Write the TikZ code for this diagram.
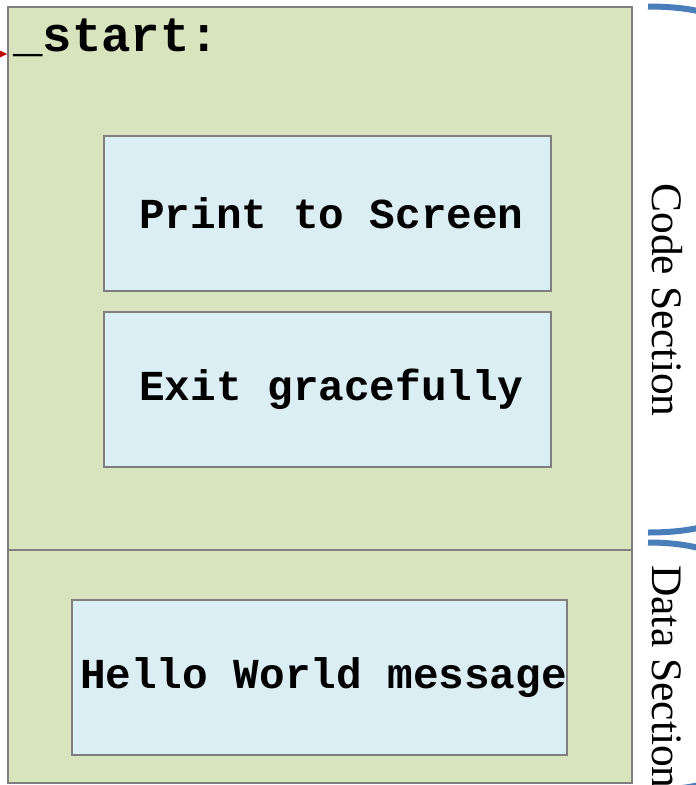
\documentclass[tikz,border=0pt]{standalone}
\usepackage{fontspec}
\setmainfont{Liberation Serif}
\setmonofont{Liberation Mono}
\usetikzlibrary{arrows.meta}
\definecolor{sectgreen}{HTML}{D7E4BD}
\definecolor{stepblue}{HTML}{DBEEF4}
\definecolor{frame}{HTML}{7F7F7F}
\definecolor{bracecol}{HTML}{4A7EBB}
\definecolor{entryred}{HTML}{C00000}
\newcommand{\steptext}[1]{\hspace*{8pt}#1}
\tikzset{
  sectionbox/.style={draw=frame, fill=sectgreen, line width=1.5pt, inner sep=0pt},
  stepbox/.style={draw=frame, fill=stepblue, line width=1.3pt, inner sep=0pt,
    minimum height=155pt, font=\ttfamily\bfseries\fontsize{42.7}{48}\selectfont},
  sidelabel/.style={rotate=-90, inner sep=0pt, font=\rmfamily\fontsize{43.5}{50}\selectfont},
  bracestroke/.style={draw=bracecol, line width=6pt},
}
\begin{document}
\begin{tikzpicture}[x=1pt, y=-1pt]
  \useasboundingbox (0,0) rectangle (696,785);
  \clip (0,0) rectangle (696,785);
  \fill[white] (0,0) rectangle (696,785);

  % the two program sections
  \node[sectionbox, minimum width=624pt, minimum height=543pt] (code) at (320,278.5) {};
  \node[sectionbox, minimum width=624pt, minimum height=233pt] (data) at (320,666.5) {};

  % entry label
  \node[anchor=base west, inner sep=0pt, font=\ttfamily\bfseries\fontsize{49}{55}\selectfont]
    (start) at (13,51) {\_start:};

  % steps of the program
  \node[stepbox, minimum width=447pt] (print) at (327.5,213.5) {\steptext{Print to Screen}};
  \node[stepbox, minimum width=447pt] (exit)  at (327.5,389.5) {\steptext{Exit gracefully}};
  \node[stepbox, minimum width=495pt] (hello) at (319.5,677.5) {\steptext{Hello World message}};

  % entry point arrow
  \coordinate (entry) at (-30,54);
  \draw[entryred, line width=1.2pt, -{Triangle[length=9pt, width=8pt]}] (entry) -- (entry -| code.west);

  % braces marking the sections
  \draw[bracestroke] (648,6.5) .. controls (690,6.5) and (728,14) .. (728,32) -- (728,250);
  \draw[bracestroke] (648,532.5) .. controls (690,532.5) and (728,525) .. (728,507) -- (728,300);
  \draw[bracestroke] (648,542.5) .. controls (690,542.5) and (728,552) .. (728,570) -- (728,700);
  \draw[bracestroke] (648,790) .. controls (690,790) and (728,782) .. (728,764) -- (728,720);

  % section labels
  \node[sidelabel, anchor=base] (codelbl) at (652,300) {Code Section};
  \node[sidelabel, anchor=base west] (datalbl) at (652,565) {Data Section};
\end{tikzpicture}
\end{document}
